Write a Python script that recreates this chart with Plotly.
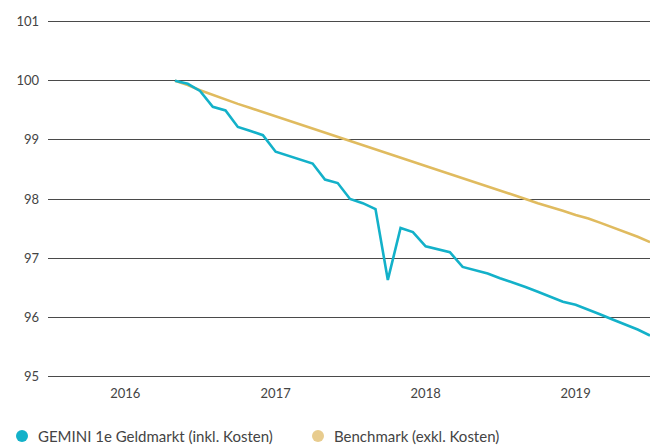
import plotly.graph_objects as go

months = [
    "2016-05-01", "2016-06-01", "2016-07-01", "2016-08-01", "2016-09-01", "2016-10-01",
    "2016-11-01", "2016-12-01", "2017-01-01", "2017-02-01", "2017-03-01", "2017-04-01",
    "2017-05-01", "2017-06-01", "2017-07-01", "2017-08-01", "2017-09-01", "2017-10-01",
    "2017-11-01", "2017-12-01", "2018-01-01", "2018-02-01", "2018-03-01", "2018-04-01",
    "2018-05-01", "2018-06-01", "2018-07-01", "2018-08-01", "2018-09-01", "2018-10-01",
    "2018-11-01", "2018-12-01", "2019-01-01", "2019-02-01", "2019-03-01", "2019-04-01",
    "2019-05-01", "2019-06-01", "2019-07-01",
]

gemini = [
    100.00, 99.95, 99.83, 99.56, 99.50, 99.22,
    99.15, 99.08, 98.80, 98.73, 98.67, 98.60,
    98.33, 98.27, 98.00, 97.93, 97.83, 96.63,
    97.51, 97.44, 97.20, 97.15, 97.10, 96.85,
    96.80, 96.74, 96.66, 96.59, 96.51, 96.43,
    96.35, 96.26, 96.21, 96.13, 96.05, 95.96,
    95.88, 95.79, 95.69,
]

benchmark = [
    100.00, 99.93, 99.84, 99.76, 99.69, 99.61,
    99.54, 99.47, 99.40, 99.33, 99.26, 99.19,
    99.12, 99.05, 98.98, 98.91, 98.84, 98.77,
    98.70, 98.63, 98.56, 98.49, 98.42, 98.35,
    98.28, 98.21, 98.14, 98.07, 98.00, 97.93,
    97.87, 97.80, 97.73, 97.67, 97.60, 97.52,
    97.44, 97.36, 97.27,
]

series_names = ["GEMINI 1e Geldmarkt (inkl. Kosten)", "Benchmark (exkl. Kosten)"]
year_ticks = ["2016-01-01", "2017-01-01", "2018-01-01", "2019-01-01"]
year_labels = ["2016", "2017", "2018", "2019"]
y_ticks = [95, 96, 97, 98, 99, 100, 101]

BLUE = "#13b1c9"
GOLD = "#e0bb5f"
GOLD_LEGEND = "#e8cc8e"
TEXT = "#444444"

W, H = 660, 445
ML, MR, MT, MB = 48, 10, 20, 67
PW = W - ML - MR
PH = H - MT - MB


def px_x(px):
    return (px - ML) / PW


def px_y(py):
    return (H - MB - py) / PH


fig = go.Figure()
fig.add_trace(go.Scatter(x=months, y=benchmark, mode="lines",
                         line=dict(color=GOLD, width=2.6), showlegend=False,
                         name=series_names[1]))
fig.add_trace(go.Scatter(x=months, y=gemini, mode="lines",
                         line=dict(color=BLUE, width=2.6), showlegend=False,
                         name=series_names[0]))

# legend drawn below the plot: circle markers + text labels
legend_items = [(22, series_names[0], BLUE), (318, series_names[1], GOLD_LEGEND)]
LEG_Y = 436
for cx, label, col in legend_items:
    fig.add_shape(type="circle", xref="paper", yref="paper",
                  x0=px_x(cx - 6), x1=px_x(cx + 6), y0=px_y(LEG_Y + 6), y1=px_y(LEG_Y - 6),
                  fillcolor=col, line=dict(width=0))
    fig.add_annotation(xref="paper", yref="paper", x=px_x(cx + 14), y=px_y(LEG_Y),
                       xanchor="left", yanchor="middle", showarrow=False, text=label,
                       font=dict(size=15, color=TEXT))

fig.update_layout(
    width=W, height=H,
    margin=dict(l=ML, r=MR, t=MT, b=MB),
    paper_bgcolor="white", plot_bgcolor="white",
    showlegend=False,
    font=dict(family="Lato, 'Noto Sans', sans-serif", color=TEXT, size=13),
    xaxis=dict(type="date", range=["2015-06-27", "2019-07-01"], automargin=False,
               tickvals=year_ticks, ticktext=year_labels,
               showgrid=False, zeroline=False, showline=False, ticks="",
               ticklabelstandoff=6,
               tickfont=dict(size=13, color=TEXT)),
    yaxis=dict(range=[94.97, 101.03], tickvals=y_ticks, showgrid=True, automargin=False,
               gridcolor="#4a4a4a", gridwidth=1.3, zeroline=False, showline=False,
               ticks="", ticklabelstandoff=8,
               tickfont=dict(size=13, color=TEXT)),
)

fig.write_html("out.html", config={"displayModeBar": False},
               post_script="document.body.style.margin='0';")
